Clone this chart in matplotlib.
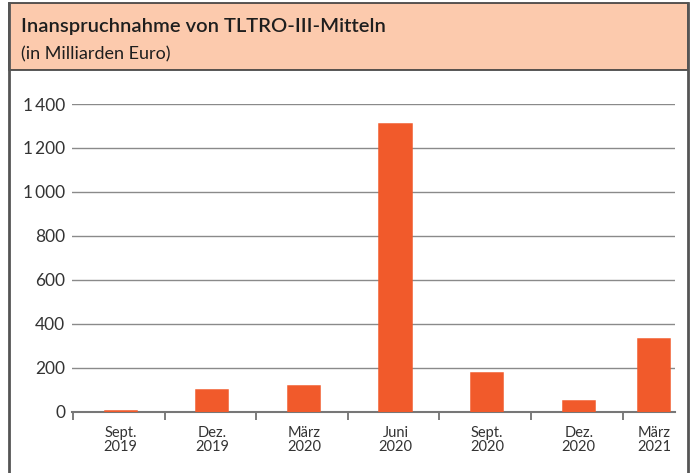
import numpy as np
import matplotlib
matplotlib.use("Agg")
import matplotlib.pyplot as plt
from matplotlib.patches import Rectangle
from matplotlib.lines import Line2D

plt.rcParams['font.family'] = ['Lato', 'DejaVu Sans']

# TLTRO-III allotments, billion euro
months = ["Sept.\n2019", "Dez.\n2019", "März\n2020", "Juni\n2020",
          "Sept.\n2020", "Dez.\n2020", "März\n2021"]
volumes = [3.4, 97.7, 115.0, 1308.4, 174.5, 50.4, 330.5]
yticks = [0, 200, 400, 600, 800, 1000, 1200, 1400]

W, H = 693, 473
fig = plt.figure(figsize=(W / 100, H / 100), dpi=100)

def fx(px):
    return px / W

def fy(py):
    return 1 - py / H

# outer frame (left/right lines) and header band
frame = '#555555'
fig.add_artist(Line2D([fx(9), fx(9)], [fy(3), 0], color=frame, lw=2, transform=fig.transFigure))
fig.add_artist(Line2D([fx(688), fx(688)], [fy(3), 0], color=frame, lw=2, transform=fig.transFigure))
fig.add_artist(Rectangle((fx(9), fy(70)), fx(688) - fx(9), fy(3) - fy(70),
                         transform=fig.transFigure, facecolor='#fccaad',
                         edgecolor='#3a3a3a', lw=1.2))
fig.text(fx(21), fy(32), "Inanspruchnahme von TLTRO-III-Mitteln", fontsize=14.5,
         fontweight='semibold', color='#1e1e1e', va='baseline')
fig.text(fx(21), fy(59), "(in Milliarden Euro)", fontsize=13, color='#1e1e1e', va='baseline')

ax = fig.add_axes([fx(72), fy(411.7), fx(675) - fx(72), fy(104) - fy(411.7)])

x = np.arange(len(months), dtype=float)
x[-1] -= 0.18  # last bar squeezed against the right edge
# thin edge keeps the tiny Sept. 2019 bar visible above the axis line
ax.bar(x, volumes, width=0.35, color='#f15a2b', edgecolor='#f15a2b', lw=1.1, zorder=5)

ax.set_ylim(0, 1400)
ax.set_xlim(-0.53, 6.05)
ax.set_yticks(yticks)
ax.set_yticklabels([f"{v:,}".replace(",", "\u2009") for v in yticks])
ax.grid(axis='y', color='#8a8a8a', lw=1)
ax.tick_params(axis='y', length=0, pad=5, labelsize=12.5, labelcolor='#333333')

# boundary ticks (major, unlabeled) and category labels (minor)
ax.set_xticks(np.arange(len(months)) - 0.52)
ax.set_xticklabels([])
ax.set_xticks(x, minor=True)
ax.set_xticklabels(months, minor=True, fontsize=10.5, color='#333333', linespacing=1.0)
ax.tick_params(axis='x', which='major', length=6, width=1.2, color='#666666', direction='out')
ax.tick_params(axis='x', which='minor', length=0, pad=10)

for s in ['top', 'right', 'left']:
    ax.spines[s].set_visible(False)
ax.spines['bottom'].set_color('#777777')
ax.spines['bottom'].set_linewidth(1.5)
ax.spines['bottom'].set_zorder(4)

fig.savefig("out.png", dpi=100)
